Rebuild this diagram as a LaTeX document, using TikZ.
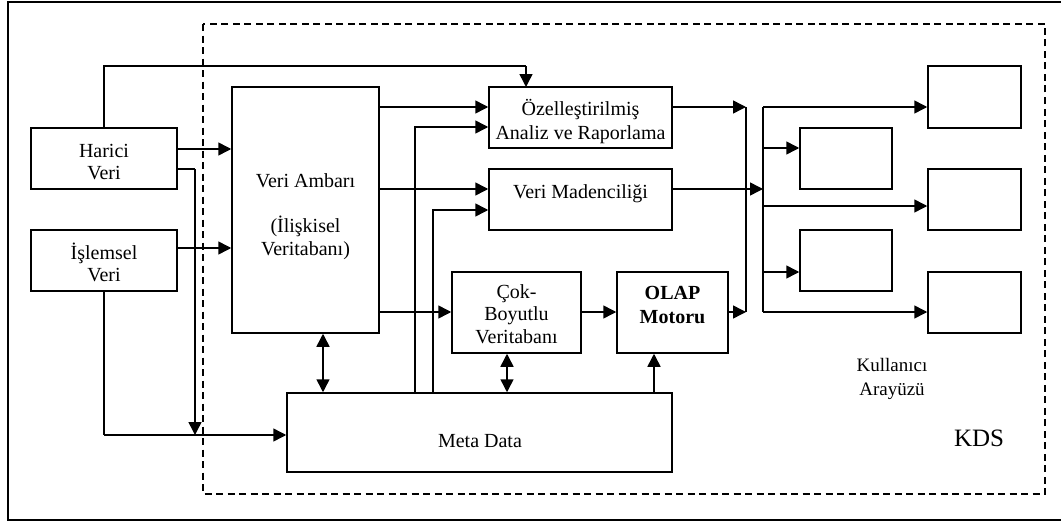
\documentclass[tikz,border=0pt]{standalone}
\usepackage{fontspec}
\setmainfont{Liberation Serif}
\usetikzlibrary{arrows.meta}
\begin{document}
\begin{tikzpicture}[x=1pt,y=-1pt,
  line width=1.5pt,
  box/.style={draw,line width=1.5pt},
  lbl/.style={font=\fontsize{20}{24}\selectfont,inner sep=0pt,anchor=base},
  tip/.style={-{Triangle[length=13pt,width=13pt]}},
  tips/.style={{Triangle[length=13pt,width=13pt]}-{Triangle[length=13pt,width=13pt]}},
  kds/.style={dash pattern=on 7pt off 4.5pt,line width=1.4pt}]
\useasboundingbox (0,0) rectangle (1061,522);

% outer frame (right side runs off the page)
\draw[line width=1.4pt] (1063,2) -- (8,2) -- (8,520) -- (1063,520);
% KDS boundary
\draw[kds] (203,24) rectangle (1045,494);

% boxes
\node[box,minimum width=146pt,minimum height=61pt,inner sep=0pt] (har) at (104,158.5) {};
\node[box,minimum width=146pt,minimum height=61pt,inner sep=0pt] (isl) at (104,260.5) {};
\node[box,minimum width=147pt,minimum height=246pt,inner sep=0pt] (va) at (305.5,210) {};
\node[box,minimum width=183pt,minimum height=61pt,inner sep=0pt] (oz) at (580.5,117.5) {};
\node[box,minimum width=183pt,minimum height=61pt,inner sep=0pt] (vm) at (580.5,199.5) {};
\node[box,minimum width=129pt,minimum height=81pt,inner sep=0pt] (cok) at (516.5,312.5) {};
\node[box,minimum width=111pt,minimum height=81pt,inner sep=0pt] (olap) at (672.5,312.5) {};
\node[box,minimum width=385pt,minimum height=79pt,inner sep=0pt] (meta) at (479.5,432.5) {};
\node[box,minimum width=93pt,minimum height=62pt,inner sep=0pt] (u1) at (974.5,97) {};
\node[box,minimum width=92pt,minimum height=61pt,inner sep=0pt] (u2) at (846,158.5) {};
\node[box,minimum width=93pt,minimum height=61pt,inner sep=0pt] (u3) at (974.5,199.5) {};
\node[box,minimum width=92pt,minimum height=61pt,inner sep=0pt] (u4) at (846,260.5) {};
\node[box,minimum width=93pt,minimum height=61pt,inner sep=0pt] (u5) at (974.5,302.5) {};

% texts
\node[lbl] (t1) at (104,157) {Harici};
\node[lbl] (t2) at (104,179) {Veri};
\node[lbl] (t3) at (104,259) {İşlemsel};
\node[lbl] (t4) at (104,281) {Veri};
\node[lbl] (t5) at (305.5,187) {Veri Ambarı};
\node[lbl] (t6) at (305.5,232) {(İlişkisel};
\node[lbl] (t7) at (305.5,255) {Veritabanı)};
\node[lbl] (t8) at (580.5,115) {Özelleştirilmiş};
\node[lbl] (t9) at (580.5,139) {Analiz ve Raporlama};
\node[lbl] (t10) at (580.5,198) {Veri Madenciliği};
\node[lbl] (t11) at (516.5,298) {Çok-};
\node[lbl] (t12) at (516.5,320) {Boyutlu};
\node[lbl] (t13) at (516.5,343) {Veritabanı};
\node[lbl,font=\fontsize{20}{24}\selectfont\bfseries] (t14) at (672.5,299) {OLAP};
\node[lbl,font=\fontsize{20}{24}\selectfont\bfseries] (t15) at (672.5,323) {Motoru};
\node[lbl] (t16) at (480,447) {Meta Data};
\node[lbl,font=\fontsize{19}{22}\selectfont] (t17) at (892,371) {Kullanıcı};
\node[lbl,font=\fontsize{19}{22}\selectfont] (t18) at (892,395) {Arayüzü};
\node[lbl,font=\fontsize{25}{28}\selectfont] (t19) at (979,446) {KDS};

% junction points
\coordinate (hx) at (195,169);
\coordinate (hd) at (195,435);
\coordinate (ix) at (104,435);
\coordinate (top) at (104,66);
\coordinate (topr) at (526,66);
\coordinate (m1) at (415,127);
\coordinate (m2) at (433,210);
\coordinate (ja) at (746,107);
\coordinate (jb) at (746,312);
\coordinate (ka) at (763,107);
\coordinate (kb) at (763,312);

% sources into the warehouse
\draw[tip] (har.east |- 0,149) -- (va.west |- 0,149);
\draw[tip] (isl.east |- 0,248) -- (va.west |- 0,248);
\draw (har.north) -- (top) -- (topr);
\draw[tip] (topr) -- (526,87);
\draw (har.east |- hx) -- (hx);
\draw[tip] (hx) -- (hd);
\draw (isl.south) -- (ix);
\draw[tip] (ix) -- (meta.west |- ix);

% warehouse to applications
\draw[tip] (va.east |- 0,107) -- (oz.west |- 0,107);
\draw[tip] (va.east |- 0,189) -- (vm.west |- 0,189);
\draw[tip] (va.east |- 0,312) -- (cok.west |- 0,312);
\draw[tip] (cok.east |- 0,312) -- (olap.west |- 0,312);

% meta data links
\draw[tip] (meta.north -| m1) -- (m1) -- (oz.west |- m1);
\draw[tip] (meta.north -| m2) -- (m2) -- (vm.west |- m2);
\draw[tips] (va.south -| 323,0) -- (meta.north -| 323,0);
\draw[tips] (cok.south -| 507,0) -- (meta.north -| 507,0);
\draw[tip] (meta.north -| 654,0) -- (olap.south -| 654,0);

% results to the user interface
\draw[tip] (oz.east |- ja) -- (ja);
\draw[tip] (olap.east |- jb) -- (jb);
\draw (ja) -- (jb);
\draw[tip] (vm.east |- 0,189) -- (763,189);
\draw (ka) -- (kb);
\draw[tip] (ka) -- (u1.west |- ka);
\draw[tip] (763,148) -- (u2.west |- 0,148);
\draw[tip] (763,206) -- (u3.west |- 0,206);
\draw[tip] (763,272) -- (u4.west |- 0,272);
\draw[tip] (kb) -- (u5.west |- kb);
\end{tikzpicture}
\end{document}
